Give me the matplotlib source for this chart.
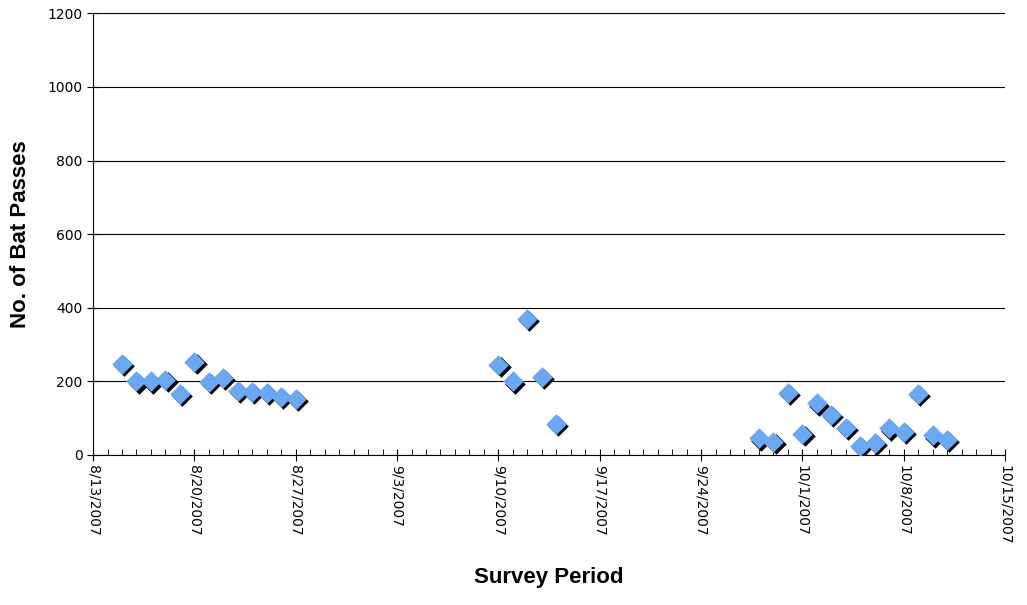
import matplotlib
matplotlib.use("Agg")
import matplotlib.pyplot as plt
import matplotlib.dates as mdates
import numpy as np
import datetime as dt

dates = ["2007-08-15","2007-08-16","2007-08-17","2007-08-18","2007-08-19","2007-08-20","2007-08-21",
         "2007-08-22","2007-08-23","2007-08-24","2007-08-25","2007-08-26","2007-08-27",
         "2007-09-10","2007-09-11","2007-09-12","2007-09-13","2007-09-14",
         "2007-09-28","2007-09-29","2007-09-30","2007-10-01","2007-10-02","2007-10-03","2007-10-04",
         "2007-10-05","2007-10-06","2007-10-07","2007-10-08","2007-10-09","2007-10-10","2007-10-11"]
passes = [247,200,200,203,165,253,198,210,175,172,168,158,153,
          245,200,370,213,85,
          45,35,168,58,140,108,73,25,33,72,63,165,53,42]

x = np.array([dt.datetime.strptime(d, "%Y-%m-%d") for d in dates])
xn = mdates.date2num(x)

fig = plt.figure(figsize=(10.27, 6.05), dpi=100)
ax = fig.add_axes([0.0906, 0.248, 0.888, 0.73])
ax.scatter(xn + 0.15, np.array(passes) - 6, marker="D", s=110, color="black", linewidth=0, zorder=2)
ax.scatter(xn, passes, marker="D", s=110, color="#6aa8f2", linewidth=0, zorder=3)

start = mdates.date2num(dt.datetime(2007, 8, 13))
ax.set_xlim(start, start + 63)
ax.set_ylim(0, 1200)
ax.set_yticks(range(0, 1201, 200))
ax.yaxis.grid(True, color="black", linewidth=0.8)
ax.set_axisbelow(True)
major = [start + 7 * i for i in range(10)]
ax.set_xticks(major)
ax.set_xticklabels([mdates.num2date(m).strftime("%-m/%-d/%Y") for m in major], rotation=-90, fontsize=10)
ax.set_xticks([start + i for i in range(64)], minor=True)
ax.tick_params(axis="x", which="major", direction="inout", length=8)
ax.tick_params(axis="x", which="minor", direction="in", length=4)
ax.tick_params(axis="y", labelsize=10, direction="inout", length=8)
for s in ["top", "right"]:
    ax.spines[s].set_visible(False)
ax.set_xlabel("Survey Period", fontsize=16, fontweight="bold", labelpad=16, family="Liberation Sans")
ax.set_ylabel("No. of Bat Passes", fontsize=16, fontweight="bold", labelpad=12, family="Liberation Sans")
fig.savefig("out.png", dpi=100)
